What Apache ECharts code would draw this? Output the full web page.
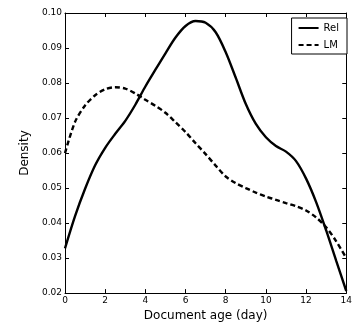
<!DOCTYPE html>
<html><head><meta charset="utf-8">
<script src="https://cdn.jsdelivr.net/npm/echarts@6/dist/echarts.min.js"></script>
<style>html,body{margin:0;padding:0;background:#fff}#c{width:355px;height:327px}</style>
</head><body><div id="c"></div>
<script>
const days = [0,0.5,1,1.5,2,2.5,3,3.5,4,4.5,5,5.5,6,6.5,7,7.5,8,8.5,9,9.5,10,10.5,11,11.5,12,12.5,13,13.5,14];
const relValues = [0.0328,0.0420,0.0498,0.0565,0.0615,0.0655,0.0692,0.0738,0.0790,0.0838,0.0885,0.0930,0.0963,0.0977,0.0972,0.0945,0.0888,0.0815,0.0740,0.0683,0.0645,0.0620,0.0604,0.0577,0.0527,0.0460,0.0379,0.0292,0.0206];
const lmValues = [0.0600,0.0689,0.0736,0.0765,0.0782,0.0788,0.0784,0.0770,0.0752,0.0735,0.0715,0.0688,0.0660,0.0628,0.0597,0.0564,0.0533,0.0514,0.0500,0.0487,0.0476,0.0466,0.0457,0.0448,0.0436,0.0416,0.0388,0.0348,0.0300];
const xTicks = [0,2,4,6,8,10,12,14];
const yTicks = [0.02,0.03,0.04,0.05,0.06,0.07,0.08,0.09,0.10];

const font = 'DejaVu Sans';
const toPairs = v => days.map((d,i)=>[d,v[i]]);
const axisCommon = {
  axisLine:{show:true,onZero:false,lineStyle:{color:'#000',width:1}},
  axisTick:{show:true,inside:true,length:4,lineStyle:{color:'#000',width:1}},
  splitLine:{show:false}
};
const chart = echarts.init(document.getElementById('c'),null,{renderer:'canvas'});
chart.setOption({
  animation:false,
  backgroundColor:'#fff',
  grid:{left:65,right:5,top:13,bottom:30,containLabel:false},
  legend:{
    data:['Rel','LM'], orient:'vertical', right:8, top:18,
    itemWidth:20, itemHeight:10, itemGap:7,
    itemStyle:{opacity:0},
    borderColor:'#000', borderWidth:1, padding:[5,8,4,6], backgroundColor:'#fff',
    textStyle:{fontFamily:font,fontSize:10,color:'#000',width:24,align:'right'},
    align:'left'
  },
  xAxis:[
    Object.assign({type:'value',min:0,max:14,interval:2,position:'bottom',
      name:'Document age (day)',nameLocation:'middle',nameGap:16,
      nameTextStyle:{fontFamily:font,fontSize:12,color:'#000'},
      axisLabel:{fontFamily:font,fontSize:9,color:'#000',margin:3,
        formatter:v=>xTicks.includes(v)?String(v):''}},axisCommon),
    Object.assign({type:'value',min:0,max:14,interval:2,position:'top',
      axisLabel:{show:false}},axisCommon)
  ],
  yAxis:[
    Object.assign({type:'value',min:0.02,max:0.10,interval:0.01,position:'left',
      name:'Density',nameLocation:'middle',nameGap:34,
      nameTextStyle:{fontFamily:font,fontSize:12,color:'#000'},
      axisLabel:{fontFamily:font,fontSize:9,color:'#000',margin:3,
        formatter:v=>v.toFixed(2)}},axisCommon),
    Object.assign({type:'value',min:0.02,max:0.10,interval:0.01,position:'right',
      axisLabel:{show:false}},axisCommon)
  ],
  series:[
    {name:'Rel',type:'line',data:toPairs(relValues),smooth:0.3,showSymbol:false,symbol:'none',
      lineStyle:{color:'#000',width:2.4,type:'solid'},itemStyle:{color:'#000'}},
    {name:'LM',type:'line',data:toPairs(lmValues),smooth:0.3,showSymbol:false,symbol:'none',
      lineStyle:{color:'#000',width:2.4,type:[5,3]},itemStyle:{color:'#000'}}
  ]
});
</script></body></html>
